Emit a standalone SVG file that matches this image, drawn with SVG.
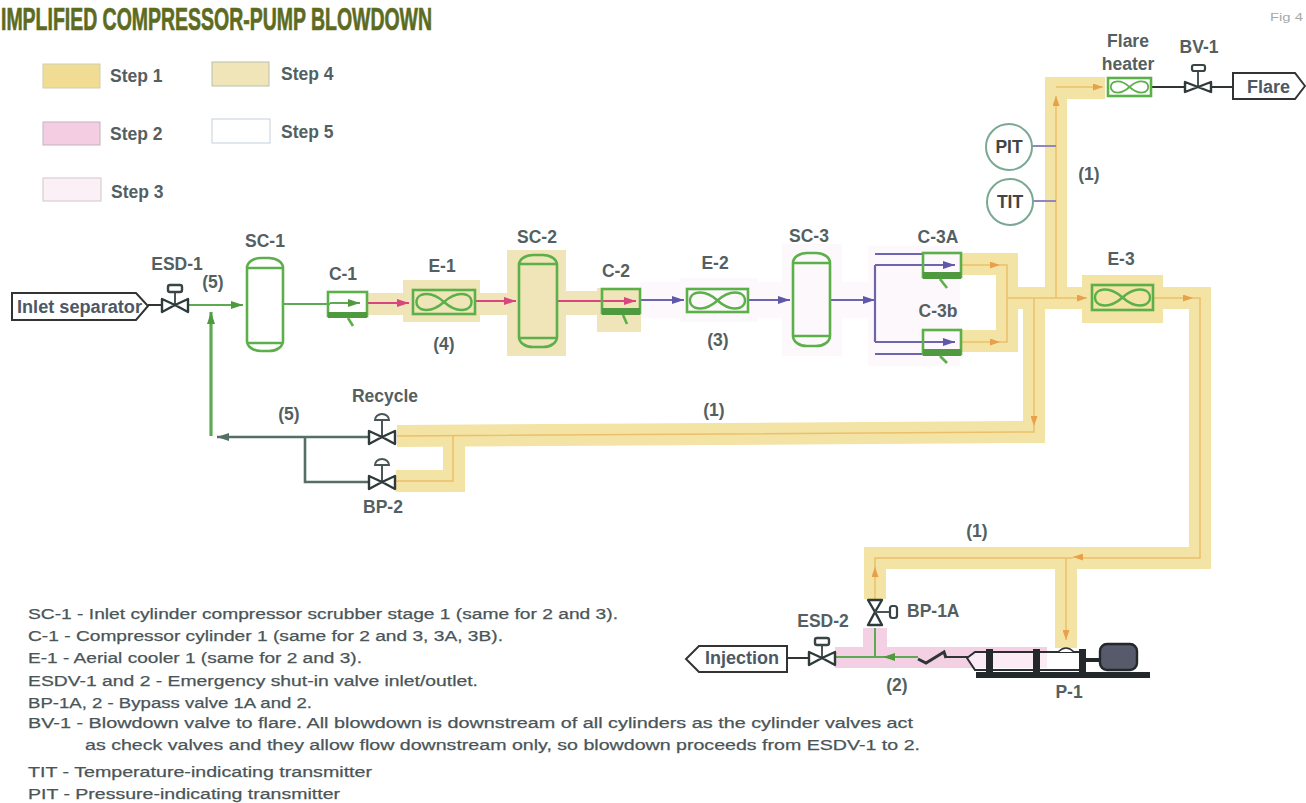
<svg xmlns="http://www.w3.org/2000/svg" xmlns:xlink="http://www.w3.org/1999/xlink" width="1306" height="803" viewBox="0 0 1306 803">
<style>
text{font-family:"Liberation Sans",Arial,sans-serif;fill:#545f62;font-weight:bold}
.l{font-size:17.5px;text-anchor:middle}
.n{font-size:15.5px;font-weight:normal;fill:#4a5558;stroke:#4a5558;stroke-width:.25}
.s{font-size:17.5px}
.tag{fill:#fff;stroke:#333;stroke-width:2}
.tagt{font-size:18px;fill:#4d5866}
.y{fill:none;stroke:#f3e3a4;stroke-width:22;stroke-linejoin:miter}
.yf{fill:#f3e3a4}
.tf{fill:#efe5b8}
.pk{fill:#f4d0e4}
.pl{fill:#fdf8fb}
.o{fill:none;stroke:#ecc06a;stroke-width:1.5}
.gr{fill:none;stroke:#5cab52;stroke-width:2}
.eq{fill:none;stroke:#5cb04a;stroke-width:2.6}
.band{fill:#4f9a3e}
.pu{fill:none;stroke:#6c64ae;stroke-width:2.2}
.pi{fill:none;stroke:#d9457f;stroke-width:2}
.dk{fill:none;stroke:#2f3535;stroke-width:2}
.dg{fill:none;stroke:#566e68;stroke-width:2.6}
.v{fill:#fff;stroke:#2f3a3a;stroke-width:2.4;stroke-linejoin:round}
.st{fill:none;stroke:#4a5555;stroke-width:2}
.c{fill:#fff;stroke:#7ba893;stroke-width:2}
</style>
<defs>
<marker id="ag" viewBox="0 0 12 8" refX="12" refY="4" markerWidth="12" markerHeight="8" markerUnits="userSpaceOnUse" orient="auto"><path d="M0 0L12 4L0 8z" fill="#4f9a3e"/></marker>
<marker id="ad" viewBox="0 0 12 8" refX="12" refY="4" markerWidth="12" markerHeight="8" markerUnits="userSpaceOnUse" orient="auto"><path d="M0 0L12 4L0 8z" fill="#566e68"/></marker>
<marker id="ap" viewBox="0 0 12 8" refX="12" refY="4" markerWidth="12" markerHeight="8" markerUnits="userSpaceOnUse" orient="auto"><path d="M0 0L12 4L0 8z" fill="#d9457f"/></marker>
<marker id="au" viewBox="0 0 12 8" refX="12" refY="4" markerWidth="12" markerHeight="8" markerUnits="userSpaceOnUse" orient="auto"><path d="M0 0L12 4L0 8z" fill="#5f57a8"/></marker>
<marker id="ao" viewBox="0 0 10 7" refX="10" refY="3.5" markerWidth="10" markerHeight="7" markerUnits="userSpaceOnUse" orient="auto"><path d="M0 0L10 3.5L0 7z" fill="#e9a04a"/></marker>
<path id="fan" d="M0 0C-9 -8 -17 -9 -23 -7C-29 -4 -29 4 -23 7C-17 9 -9 8 0 0C9 -8 17 -9 23 -7C29 -4 29 4 23 7C17 9 9 8 0 0Z" fill="none" stroke="#5cb04a" stroke-width="2.4"/>
<g id="hv"><path class="st" d="M0 0V-17"/><path d="M-7 -17A7 6 0 0 1 7 -17Z" fill="#fff" stroke="#4a5555" stroke-width="2"/><path class="v" d="M-13 -6L0 0L-13 7ZM13 -6L0 0L13 7Z"/></g>
<g id="ev"><path class="st" d="M0 0V-13"/><rect x="-7" y="-20" width="14" height="7" rx="2" fill="#fff" stroke="#3a4444" stroke-width="2.4"/><path class="v" d="M-13 -6L0 0L-13 7ZM13 -6L0 0L13 7Z"/></g>
</defs>

<text x="1" y="30" textLength="431" lengthAdjust="spacingAndGlyphs" style="font-size:32px;fill:#5d6b1f;stroke:#5d6b1f;stroke-width:.7">IMPLIFIED COMPRESSOR-PUMP BLOWDOWN</text>
<text x="1270" y="21" textLength="33" lengthAdjust="spacingAndGlyphs" style="font-size:11px;font-weight:normal;fill:#a5aaaa">Fig 4</text>

<g id="legend">
<rect x="43" y="64" width="57" height="24" fill="#f0dc92" stroke="#cfd0b0"/>
<rect x="212" y="62" width="57" height="24" fill="#efe5b8" stroke="#b9c0ac"/>
<rect x="43" y="122" width="57" height="23" fill="#f4cde2" stroke="#bfb5bd"/>
<rect x="212" y="119" width="58" height="24" fill="#fff" stroke="#c5d0de"/>
<rect x="43" y="178" width="58" height="23" fill="#fbf0f6" stroke="#cfc8cc"/>
<text class="s" x="110" y="82">Step 1</text>
<text class="s" x="281" y="80">Step 4</text>
<text class="s" x="110" y="140">Step 2</text>
<text class="s" x="281" y="138">Step 5</text>
<text class="s" x="111" y="198">Step 3</text>
</g>

<g id="step-bands">
<rect class="pl" x="640" y="282" width="320" height="36"/>
<rect class="pl" x="680" y="278" width="78" height="44"/>
<rect class="pl" x="782" y="244" width="60" height="112"/>
<rect class="pl" x="868" y="246" width="92" height="120"/>
<rect class="tf" x="367" y="293" width="200" height="22"/>
<rect class="tf" x="403" y="280" width="77" height="42"/>
<rect class="tf" x="507" y="250" width="59" height="106"/>
<rect class="tf" x="566" y="291" width="40" height="24"/>
<rect class="tf" x="597" y="288" width="44" height="44"/>
<rect class="pk" x="835" y="647" width="212" height="21"/>
<rect class="pk" x="863" y="628" width="24" height="22"/>
<path class="y" d="M1105 88H1056V298"/>
<path class="y" d="M960 264H1007V341H960"/>
<path class="y" d="M1007 298H1200V558H875V599"/>
<path class="y" d="M1066 558V648"/>
<path class="y" d="M1034 298V432L397 436"/>
<path class="y" d="M454 436V481H396"/>
<rect class="yf" x="1082" y="275" width="81" height="48"/>
</g>

<g id="connectors">
<path class="o" d="M1056 298V96" marker-end="url(#ao)"/>
<path class="o" d="M1056 87H1103" marker-end="url(#ao)"/>
<path class="o" d="M1007 298H1087" marker-end="url(#ao)"/>
<path class="o" d="M1153 298H1193" marker-end="url(#ao)"/>
<path class="o" d="M1193 298H1200V558H1082"/>
<path class="o" d="M1082 557H1073" marker-end="url(#ao)"/>
<path class="o" d="M1073 558H875V570"/>
<path class="o" d="M875 600V567" marker-end="url(#ao)"/>
<path class="o" d="M1066 558V640" marker-end="url(#ao)"/>
<path class="o" d="M1034 298V426" marker-end="url(#ao)"/>
<path class="o" d="M1034 426V432L397 436"/>
<path class="o" d="M453 436V481H396"/>
<path class="o" d="M961 265H1000" marker-end="url(#ao)"/>
<path class="o" d="M961 342H1000" marker-end="url(#ao)"/>
<path class="o" d="M1000 265H1007V342H1000"/>

<path class="dk" d="M148 305H163"/>
<path class="gr" d="M188 305H243" marker-end="url(#ag)"/>
<path class="gr" d="M283 304H330"/>
<path class="gr" d="M330 303H360" marker-end="url(#ag)"/>
<path d="M211 436V312" fill="none" stroke="#5cab52" stroke-width="3.2" marker-end="url(#ag)"/>
<path class="dg" d="M368 437H217" marker-end="url(#ad)"/>
<path class="dg" d="M305 437V482H368"/>
<path class="pi" d="M367 303H409" marker-end="url(#ap)"/>
<path class="pi" d="M475 301H516" marker-end="url(#ap)"/>
<path class="pi" d="M557 301H636" marker-end="url(#ap)"/>
<path class="pu" d="M640 300H684" marker-end="url(#au)"/>
<path class="pu" d="M748 300H790" marker-end="url(#au)"/>
<path class="pu" d="M830 300H875" marker-end="url(#au)"/>
<path class="pu" d="M875 265V342"/>
<path class="pu" d="M875 265H955" marker-end="url(#au)"/>
<path class="pu" d="M875 342H955" marker-end="url(#au)"/>
<path class="pu" d="M875 254H923M875 354H923"/>
<path d="M1032 146H1056M1033 201H1056" fill="none" stroke="#8f86c4" stroke-width="1.8"/>
<path class="dk" d="M1151 87H1233"/>
<path class="dk" d="M787 658H810"/>
<path class="gr" d="M835 657H918"/>
<path class="gr" d="M875 628V657"/>
<path class="gr" d="M900 657H883" marker-end="url(#ag)"/>
<path class="dk" d="M945 657H968"/>
</g>

<g id="inlet-separator"><path class="tag" d="M12 293H136L148 306L136 320H12Z"/><text class="tagt" x="17" y="313" textLength="125" lengthAdjust="spacingAndGlyphs">Inlet separator</text></g>
<g id="esd-1"><use xlink:href="#ev" href="#ev" x="175" y="305"/><text class="l" x="177" y="270">ESD-1</text></g>
<g id="sc-1"><rect class="eq" x="247" y="258" width="36" height="93" rx="14" ry="10"/><path class="eq" d="M247 268H283M247 343H283"/><text class="l" x="265" y="247">SC-1</text></g>
<g id="c-1"><rect class="eq" x="328" y="292" width="39" height="24"/><rect class="band" x="328" y="312" width="39" height="6"/><path class="eq" d="M348 318L353 326"/><text class="l" x="343" y="280">C-1</text></g>
<g id="e-1"><rect class="eq" x="413" y="290" width="62" height="24"/><use xlink:href="#fan" href="#fan" transform="translate(444 302)"/><text class="l" x="442" y="272">E-1</text></g>
<g id="sc-2"><rect class="eq" x="519" y="255" width="38" height="92" rx="14" ry="10"/><path class="eq" d="M519 264H557M519 338H557"/><text class="l" x="537" y="243">SC-2</text></g>
<g id="c-2"><rect class="eq" x="602" y="289" width="38" height="24"/><rect class="band" x="602" y="308" width="38" height="7"/><path class="eq" d="M623 315L627 324"/><text class="l" x="616" y="277">C-2</text></g>
<g id="e-2"><rect class="eq" x="687" y="289" width="61" height="23"/><use xlink:href="#fan" href="#fan" transform="translate(717.500 300.500)"/><text class="l" x="715" y="269">E-2</text></g>
<g id="sc-3"><rect class="eq" x="793" y="253" width="37" height="93" rx="14" ry="10"/><path class="eq" d="M793 263H830M793 336H830"/><text class="l" x="809" y="242">SC-3</text></g>
<g id="c-3a"><rect class="eq" x="923" y="253" width="38" height="24"/><rect class="band" x="923" y="272" width="38" height="7"/><path class="eq" d="M940 279L947 288"/><text class="l" x="938" y="243">C-3A</text></g>
<g id="c-3b"><rect class="eq" x="923" y="330" width="38" height="24"/><rect class="band" x="923" y="349" width="38" height="7"/><path class="eq" d="M940 356L947 363"/><text class="l" x="938" y="317">C-3b</text></g>
<g id="e-3"><rect class="eq" x="1092" y="285" width="61" height="25"/><use xlink:href="#fan" href="#fan" transform="translate(1122.500 297.500)"/><text class="l" x="1121" y="265">E-3</text></g>
<g id="flare-heater"><rect class="eq" x="1108" y="78" width="43" height="18"/><use xlink:href="#fan" href="#fan" transform="translate(1129.500 87) scale(.68 .7)"/><text class="l" x="1128" y="47">Flare</text><text class="l" x="1128" y="70">heater</text></g>
<g id="bv-1"><path class="st" d="M1198 87V72"/><rect x="1192" y="65" width="13" height="6" rx="2" fill="#fff" stroke="#3a4444" stroke-width="2.2"/><path class="v" d="M1185 82L1198 87L1185 92ZM1211 82L1198 87L1211 92Z"/><text class="l" x="1199" y="53">BV-1</text></g>
<g id="flare"><path class="tag" d="M1233 73H1295L1305 86L1295 99H1233Z"/><text class="tagt" x="1247" y="93">Flare</text></g>
<g id="pit"><circle class="c" cx="1009" cy="147" r="23"/><text class="l" x="1009" y="153" style="fill:#444">PIT</text></g>
<g id="tit"><circle class="c" cx="1010" cy="202" r="23"/><text class="l" x="1010" y="208" style="fill:#444">TIT</text></g>
<g id="recycle"><use xlink:href="#hv" href="#hv" x="382" y="437"/><text class="l" x="385" y="402">Recycle</text></g>
<g id="bp-2"><use xlink:href="#hv" href="#hv" x="382" y="482"/><text class="l" x="383" y="513">BP-2</text></g>
<g id="injection"><path class="tag" d="M787 646H699L686 659L699 672H787Z"/><text class="tagt" x="705" y="664">Injection</text></g>
<g id="esd-2"><use xlink:href="#ev" href="#ev" x="822" y="658"/><text class="l" x="823" y="627">ESD-2</text></g>
<g id="bp-1a"><path class="v" d="M868 600H882L875 612ZM868 625H882L875 612Z"/><path class="st" d="M875 612H891"/><rect x="890" y="606" width="7" height="12" rx="2.500" fill="#fff" stroke="#3a4444" stroke-width="2.2"/><text class="l" x="907" y="617" style="text-anchor:start">BP-1A</text></g>
<g id="check-valve"><path d="M918 659L926 663L944 652L946 658" fill="none" stroke="#2f3535" stroke-width="3"/></g>
<g id="p-1">
<path d="M967 658L975 652H1084V670H975Z" fill="#fff" fill-opacity=".6" stroke="#2b2f33" stroke-width="2"/>
<path d="M1058 652Q1066 644 1074 652" fill="#fff" stroke="#2b2f33" stroke-width="1.600"/>
<rect x="976" y="672" width="174" height="6" fill="#23282b"/>
<rect x="986" y="649" width="7" height="24" fill="#23282b"/>
<rect x="1033" y="649" width="7" height="24" fill="#23282b"/>
<rect x="1079" y="649" width="7" height="24" fill="#23282b"/>
<path d="M1086 660H1100" stroke="#23282b" stroke-width="4"/>
<rect x="1100" y="644" width="37" height="26" rx="7" fill="#565a6b" stroke="#23282b" stroke-width="2.4"/>
<text class="l" x="1069" y="698">P-1</text>
</g>
<g id="labels">
<text class="l" x="213" y="288">(5)</text>
<text class="l" x="444" y="350">(4)</text>
<text class="l" x="289" y="420">(5)</text>
<text class="l" x="718" y="346">(3)</text>
<text class="l" x="1089" y="180">(1)</text>
<text class="l" x="714" y="416">(1)</text>
<text class="l" x="977" y="537">(1)</text>
<text class="l" x="897" y="691">(2)</text>
</g>
<g id="notes">
<text class="n" x="28" y="619" textLength="590" lengthAdjust="spacingAndGlyphs">SC-1 - Inlet cylinder compressor scrubber stage 1 (same for 2 and 3).</text>
<text class="n" x="28" y="641" textLength="475" lengthAdjust="spacingAndGlyphs">C-1 - Compressor cylinder 1 (same for 2 and 3, 3A, 3B).</text>
<text class="n" x="28" y="663" textLength="334" lengthAdjust="spacingAndGlyphs">E-1 - Aerial cooler 1 (same for 2 and 3).</text>
<text class="n" x="28" y="686" textLength="450" lengthAdjust="spacingAndGlyphs">ESDV-1 and 2 - Emergency shut-in valve inlet/outlet.</text>
<text class="n" x="28" y="708" textLength="284" lengthAdjust="spacingAndGlyphs">BP-1A, 2 - Bypass valve 1A and 2.</text>
<text class="n" x="28" y="728" textLength="885" lengthAdjust="spacingAndGlyphs">BV-1 - Blowdown valve to flare. All blowdown is downstream of all cylinders as the cylinder valves act</text>
<text class="n" x="85" y="750" textLength="835" lengthAdjust="spacingAndGlyphs">as check valves and they allow flow downstream only, so blowdown proceeds from ESDV-1 to 2.</text>
<text class="n" x="28" y="777" textLength="344" lengthAdjust="spacingAndGlyphs">TIT - Temperature-indicating transmitter</text>
<text class="n" x="28" y="799" textLength="312" lengthAdjust="spacingAndGlyphs">PIT - Pressure-indicating transmitter</text>
</g>
</svg>
